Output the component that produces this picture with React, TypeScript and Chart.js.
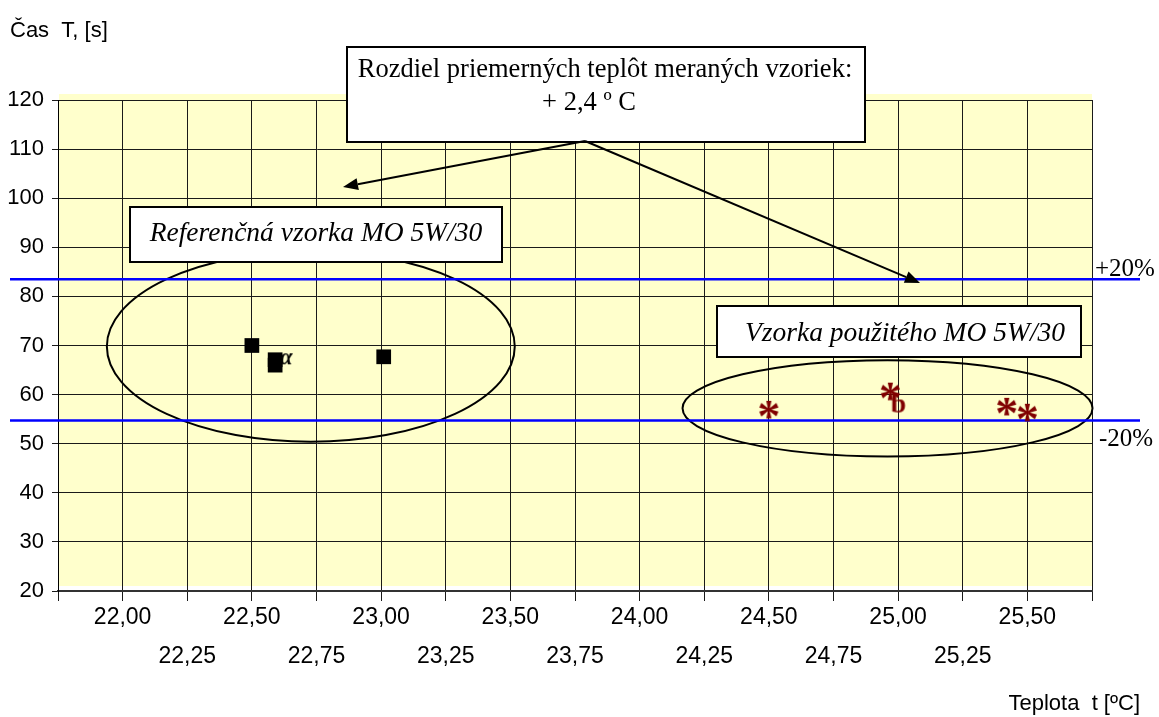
import React, { useEffect, useRef } from 'react';
import { Chart, registerables } from 'chart.js';

Chart.register(...registerables);

// ---- data ----
const refSampleX = [22.5, 22.59, 22.59, 23.01];
const refSampleY = [70.0, 67.1, 66.0, 67.7];
const refMarkX = [22.635];
const refMarkY = [67.3];
const usedSampleX = [24.5, 24.97, 25.42, 25.5];
const usedSampleY = [56.9, 60.6, 57.5, 56.3];
const usedMarkX = [25.0];
const usedMarkY = [58.3];
const limitValues = [83.5, 54.7];
const limitLabels = ['+20%', '-20%'];
const xTickValues = [21.75, 22.0, 22.25, 22.5, 22.75, 23.0, 23.25, 23.5, 23.75, 24.0, 24.25, 24.5, 24.75, 25.0, 25.25, 25.5, 25.75];
const yTickValues = [20, 30, 40, 50, 60, 70, 80, 90, 100, 110, 120];

const yTitle = 'Čas  T, [s]';
const xTitle = 'Teplota  t [ºC]';
const noteMain = ['Rozdiel priemerných teplôt meraných vzoriek:', '+ 2,4 º C'];
const noteRef = 'Referenčná vzorka MO 5W/30';
const noteUsed = 'Vzorka použitého MO 5W/30';

const SANS = '"Liberation Sans", Arial, sans-serif';
const SERIF = '"Liberation Serif", "Times New Roman", serif';

function makeGlyph(text: string, font: string, color: string): HTMLCanvasElement {
  const c = document.createElement('canvas');
  let ctx = c.getContext('2d') as CanvasRenderingContext2D;
  ctx.font = font;
  const m = ctx.measureText(text);
  const w = Math.ceil(m.actualBoundingBoxLeft + m.actualBoundingBoxRight) + 2;
  const h = Math.ceil(m.actualBoundingBoxAscent + m.actualBoundingBoxDescent) + 2;
  c.width = w;
  c.height = h;
  ctx = c.getContext('2d') as CanvasRenderingContext2D;
  ctx.font = font;
  ctx.fillStyle = color;
  ctx.textBaseline = 'alphabetic';
  ctx.fillText(text, 1 + m.actualBoundingBoxLeft, 1 + m.actualBoundingBoxAscent);
  return c;
}

function fmt(v: number) {
  return v.toFixed(2).replace('.', ',');
}

export default function App() {
  const ref = useRef<HTMLCanvasElement | null>(null);

  useEffect(() => {
    document.body.style.margin = '0';
    const canvas = ref.current;
    if (!canvas) return;

    const asterisk = makeGlyph('*', `bold 46px ${SERIF}`, '#800000');
    const alphaGlyph = makeGlyph('α', `bold italic 23px ${SERIF}`, '#000000');
    const bGlyph = makeGlyph('b', `bold 28px ${SERIF}`, '#800000');

    const annotations = {
      id: 'annotations',
      beforeDraw(chart: any) {
        const { ctx, chartArea: a } = chart;
        ctx.save();
        ctx.fillStyle = '#FFFFCC';
        ctx.fillRect(a.left + 1, a.top - 6, a.right - a.left - 1, a.bottom - a.top + 1);
        ctx.restore();
      },
      beforeDatasetsDraw(chart: any) {
        const { ctx } = chart;
        const xs = chart.scales.x;
        const ys = chart.scales.y;
        ctx.save();
        // ellipses around the two groups (data coordinates)
        const ellipses = [
          { cx: 22.728, cy: 69.8, rx: 0.789, ry: 19.4 },
          { cx: 24.959, cy: 57.2, rx: 0.793, ry: 9.8 },
        ];
        ctx.strokeStyle = '#000';
        ctx.lineWidth = 2;
        for (const e of ellipses) {
          const px = xs.getPixelForValue(e.cx);
          const py = ys.getPixelForValue(e.cy);
          const prx = Math.abs(xs.getPixelForValue(e.cx + e.rx) - px);
          const pry = Math.abs(ys.getPixelForValue(e.cy + e.ry) - py);
          ctx.beginPath();
          ctx.ellipse(px, py, prx, pry, 0, 0, Math.PI * 2);
          ctx.stroke();
        }
        // +/-20% limit lines
        ctx.strokeStyle = '#0000FF';
        ctx.lineWidth = 2.5;
        ctx.fillStyle = '#000';
        ctx.font = `25px ${SERIF}`;
        ctx.textBaseline = 'alphabetic';
        ctx.textAlign = 'left';
        limitValues.forEach((v, i) => {
          const y = ys.getPixelForValue(v);
          ctx.beginPath();
          ctx.moveTo(10, y);
          ctx.lineTo(1140, y);
          ctx.stroke();
          ctx.fillText(limitLabels[i], i === 0 ? 1095 : 1099, i === 0 ? y - 3 : y + 25);
        });
        ctx.restore();
      },
      afterDatasetsDraw(chart: any) {
        const { ctx } = chart;
        ctx.save();
        const box = (l: number, t: number, r: number, b: number) => {
          ctx.fillStyle = '#fff';
          ctx.fillRect(l, t, r - l, b - t);
          ctx.strokeStyle = '#000';
          ctx.lineWidth = 2;
          ctx.strokeRect(l, t, r - l, b - t);
        };
        const arrow = (x1: number, y1: number, x2: number, y2: number) => {
          const ang = Math.atan2(y2 - y1, x2 - x1);
          const len = 15, hw = 6;
          const bx = x2 - len * Math.cos(ang);
          const by = y2 - len * Math.sin(ang);
          ctx.strokeStyle = '#000';
          ctx.lineWidth = 2;
          ctx.beginPath();
          ctx.moveTo(x1, y1);
          ctx.lineTo(bx, by);
          ctx.stroke();
          ctx.fillStyle = '#000';
          ctx.beginPath();
          ctx.moveTo(x2, y2);
          ctx.lineTo(bx + hw * Math.sin(ang), by - hw * Math.cos(ang));
          ctx.lineTo(bx - hw * Math.sin(ang), by + hw * Math.cos(ang));
          ctx.closePath();
          ctx.fill();
        };
        // reference sample label
        box(130, 207, 502, 262);
        ctx.fillStyle = '#000';
        ctx.textAlign = 'center';
        ctx.textBaseline = 'alphabetic';
        ctx.font = `italic 27.5px ${SERIF}`;
        ctx.fillText(noteRef, 316, 241);
        // used sample label
        box(717, 306, 1081, 357);
        ctx.fillStyle = '#000';
        ctx.font = `italic 27.5px ${SERIF}`;
        ctx.fillText(noteUsed, 905, 341);
        // main note
        box(347, 47, 865, 142);
        ctx.fillStyle = '#000';
        ctx.font = `26.5px ${SERIF}`;
        ctx.fillText(noteMain[0], 605, 77);
        ctx.fillText(noteMain[1], 589, 110);
        arrow(585, 141, 343, 187);
        arrow(585, 141, 920, 283);
        // axis titles
        ctx.textAlign = 'left';
        ctx.font = `22px ${SANS}`;
        ctx.fillText(yTitle, 10, 37);
        ctx.textAlign = 'right';
        ctx.fillText(xTitle, 1140, 710);
        ctx.restore();
      },
    };

    const chart = new Chart(canvas, {
      type: 'scatter',
      data: {
        datasets: [
          {
            label: 'Referenčná vzorka',
            data: refSampleX.map((x, i) => ({ x, y: refSampleY[i] })),
            pointStyle: 'rect',
            pointRadius: 10.4,
            backgroundColor: '#000',
            borderColor: '#000',
            borderWidth: 0,
          },
          {
            label: 'Vzorka použitého MO',
            data: usedSampleX.map((x, i) => ({ x, y: usedSampleY[i] })),
            pointStyle: asterisk,
            pointRadius: 10,
          },
          {
            label: 'ref mark',
            data: refMarkX.map((x, i) => ({ x, y: refMarkY[i] })),
            pointStyle: alphaGlyph,
            pointRadius: 6,
          },
          {
            label: 'used mark',
            data: usedMarkX.map((x, i) => ({ x, y: usedMarkY[i] })),
            pointStyle: bGlyph,
            pointRadius: 8,
          },
        ],
      },
      options: {
        responsive: true,
        maintainAspectRatio: false,
        animation: false,
        events: [],
        layout: { padding: { top: 100, right: 67, left: 0, bottom: 0 } },
        plugins: {
          legend: { display: false },
          tooltip: { enabled: false },
          title: { display: false },
        },
        scales: {
          x: {
            type: 'linear',
            min: xTickValues[0],
            max: xTickValues[xTickValues.length - 1],
            afterBuildTicks: (s: any) => {
              s.ticks = xTickValues.map((v) => ({ value: v }));
            },
            afterFit: (s: any) => {
              s.height = 126;
            },
            grid: {
              color: '#1a1a1a',
              lineWidth: 1,
              tickLength: 10,
              drawTicks: true,
            },
            border: { color: '#333', width: 2 },
            ticks: {
              autoSkip: false,
              maxRotation: 0,
              minRotation: 0,
              padding: -3,
              color: '#000',
              font: { family: SANS, size: 23, lineHeight: '39px' },
              callback: (value: any, index: number) => {
                const v = Number(value);
                if (index === 0 || index === xTickValues.length - 1) return '';
                const q = Math.round(v * 4) % 2;
                return q === 0 ? fmt(v) : ['', fmt(v)];
              },
            },
          },
          y: {
            type: 'linear',
            min: yTickValues[0],
            max: yTickValues[yTickValues.length - 1],
            afterBuildTicks: (s: any) => {
              s.ticks = yTickValues.map((v) => ({ value: v }));
            },
            afterFit: (s: any) => {
              s.width = 58;
            },
            grid: {
              color: '#1a1a1a',
              lineWidth: 1,
              tickLength: 6,
            },
            border: { color: '#000', width: 1 },
            ticks: {
              padding: 8,
              color: '#000',
              font: { family: SANS, size: 22 },
              callback: (value: any) => String(value),
            },
          },
        },
      },
      plugins: [annotations],
    } as any);

    return () => chart.destroy();
  }, []);

  return (
    <div style={{ position: 'relative', width: 1159, height: 717 }}>
      <canvas ref={ref} />
    </div>
  );
}
